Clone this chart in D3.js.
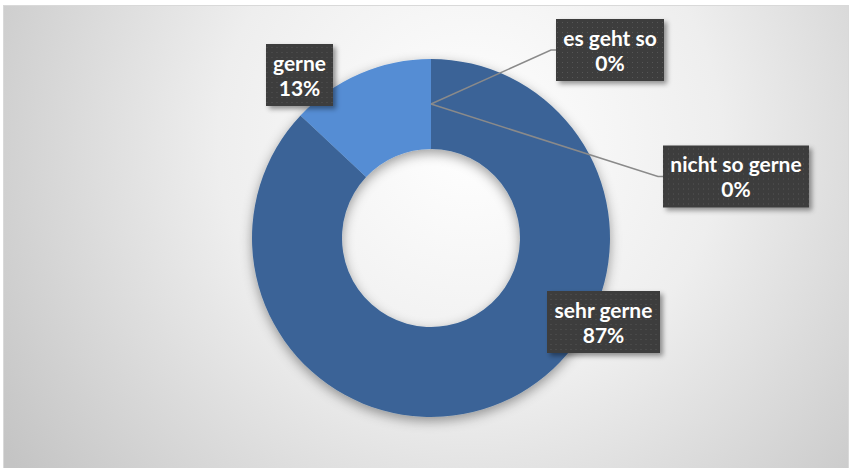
<!DOCTYPE html>
<html>
<head>
<meta charset="utf-8">
<script src="https://cdn.jsdelivr.net/npm/d3@7"></script>
<style>
	html, body { margin: 0; padding: 0; background: #fff; }
	svg { display: block; }
	.label-text { font-family: Lato, 'Open Sans', sans-serif; font-weight: 700; fill: #fff; }
</style>
</head>
<body>
<div id="chart"></div>
<script>
// chart data
const categories = ['sehr gerne', 'gerne', 'es geht so', 'nicht so gerne'];
const values = [87, 13, 0, 0];
const sliceColors = ['#3b6497', '#548dd4', '#4f81bd', '#2c4d75'];

// where each data label box sits (centre of box), manual like in the original
const labelLayout = {
	'sehr gerne': { cx: 603.5, cy: 322, w: 113, leader: false },
	'gerne': { cx: 299.5, cy: 75, w: 67, leader: false },
	'es geht so': { cx: 610, cy: 50, w: 108, leader: true },
	'nicht so gerne': { cx: 736, cy: 176.5, w: 146, leader: true }
};

const width = 850;
const height = 468;
const center = { x: 431, y: 238 };
const outerR = 179;
const innerR = 89;

const svg = d3.select('#chart')
	.append('svg')
	.attr('width', width)
	.attr('height', height);

const defs = svg.append('defs');

// chart area background
const bg = defs.append('radialGradient')
	.attr('id', 'bg-grad')
	.attr('gradientUnits', 'userSpaceOnUse')
	.attr('cx', 470)
	.attr('cy', 140)
	.attr('r', 560);
bg.append('stop').attr('offset', 0).attr('stop-color', '#ffffff');
bg.append('stop').attr('offset', 0.45).attr('stop-color', '#eeeeee');
bg.append('stop').attr('offset', 1).attr('stop-color', '#c4c4c4');

// soft shadow for the ring
const ringShadow = defs.append('filter')
	.attr('id', 'ring-shadow')
	.attr('x', '-20%').attr('y', '-20%')
	.attr('width', '140%').attr('height', '140%');
ringShadow.append('feDropShadow')
	.attr('dx', 0).attr('dy', 4)
	.attr('stdDeviation', 6)
	.attr('flood-color', '#000')
	.attr('flood-opacity', 0.38);

// shadow for label boxes
const boxShadow = defs.append('filter')
	.attr('id', 'box-shadow')
	.attr('x', '-20%').attr('y', '-30%')
	.attr('width', '140%').attr('height', '160%');
boxShadow.append('feDropShadow')
	.attr('dx', 3).attr('dy', 3)
	.attr('stdDeviation', 2.5)
	.attr('flood-color', '#000')
	.attr('flood-opacity', 0.4);

// dotted fill for label boxes
const dots = defs.append('pattern')
	.attr('id', 'dots')
	.attr('patternUnits', 'userSpaceOnUse')
	.attr('width', 5)
	.attr('height', 5);
dots.append('rect').attr('width', 5).attr('height', 5).attr('fill', '#3d3d3d');
dots.append('rect').attr('x', 2).attr('y', 2).attr('width', 1).attr('height', 1).attr('fill', '#575757');

svg.append('rect')
	.attr('x', 3.5)
	.attr('y', 5.5)
	.attr('width', 845)
	.attr('height', 470)
	.attr('fill', 'url(#bg-grad)')
	.attr('stroke', '#d9d9d9');

// donut
const pie = d3.pie()
	.value(d => d.value)
	.sort(null);

const arc = d3.arc()
	.innerRadius(innerR)
	.outerRadius(outerR);

const data = categories.map((c, i) => ({ name: c, value: values[i], color: sliceColors[i] }));
const arcs = pie(data);

const ring = svg.append('g')
	.attr('class', 'g-ring')
	.attr('transform', `translate(${center.x},${center.y})`)
	.attr('filter', 'url(#ring-shadow)');

ring.selectAll('path')
	.data(arcs.filter(d => d.value > 0))
	.enter()
	.append('path')
	.attr('d', arc)
	.attr('fill', d => d.data.color);

// leader lines for the empty slices
const leaderGroup = svg.append('g').attr('class', 'g-leaders');
arcs.filter(d => labelLayout[d.data.name].leader).forEach(d => {
	const lay = labelLayout[d.data.name];
	const c = arc.centroid(d);
	const left = lay.cx - lay.w / 2;
	leaderGroup.append('polyline')
		.attr('points', [
			[center.x + c[0], center.y + c[1]],
			[left - 5, lay.cy],
			[left, lay.cy]
		].map(p => p.join(',')).join(' '))
		.attr('fill', 'none')
		.attr('stroke', '#8a8a8a')
		.attr('stroke-width', 1.5);
});

// data labels
const labelGroup = svg.append('g')
	.attr('class', 'g-labels')
	.selectAll('g')
	.data(arcs)
	.enter()
	.append('g')
	.attr('transform', d => {
		const lay = labelLayout[d.data.name];
		return `translate(${lay.cx},${lay.cy})`;
	});

labelGroup.append('rect')
	.attr('x', d => -labelLayout[d.data.name].w / 2)
	.attr('y', -31)
	.attr('width', d => labelLayout[d.data.name].w)
	.attr('height', 62)
	.attr('fill', 'url(#dots)')
	.attr('filter', 'url(#box-shadow)');

labelGroup.append('text')
	.attr('class', 'label-text')
	.attr('text-anchor', 'middle')
	.attr('font-size', 21)
	.attr('y', -12)
	.attr('dy', '0.36em')
	.text(d => d.data.name);

labelGroup.append('text')
	.attr('class', 'label-text')
	.attr('text-anchor', 'middle')
	.attr('font-size', 21)
	.attr('y', 13)
	.attr('dy', '0.36em')
	.text(d => Math.round(d.data.value) + '%');
</script>
</body>
</html>
